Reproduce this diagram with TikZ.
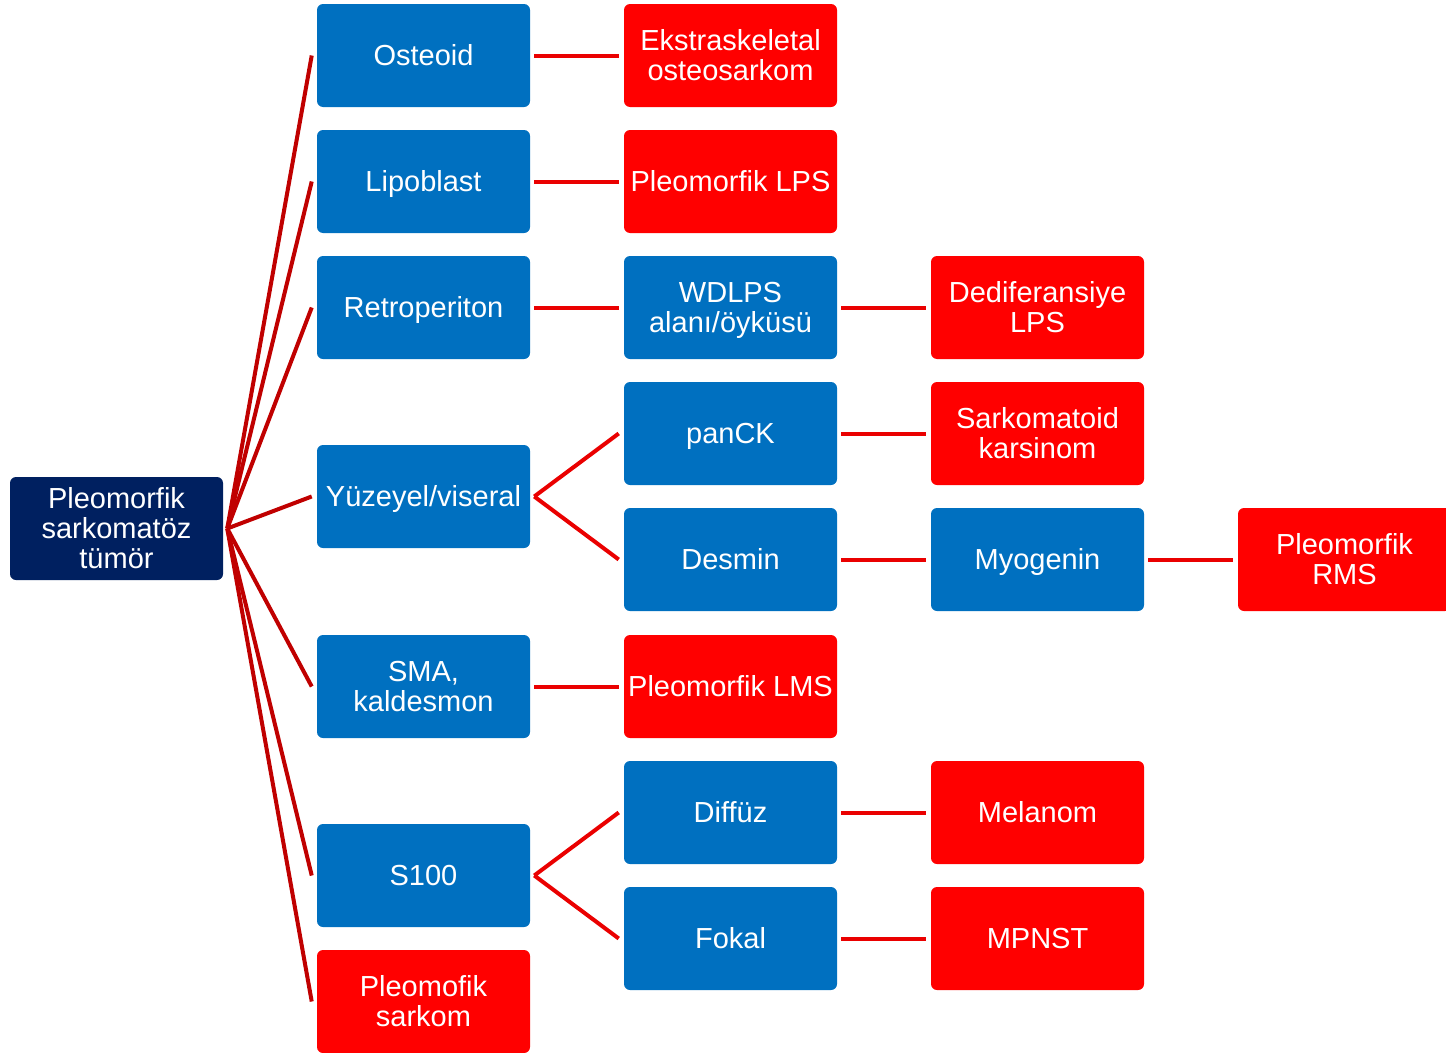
\documentclass[tikz,border=0pt]{standalone}
\usepackage{fontspec}
\setmainfont{Liberation Sans}
\usetikzlibrary{calc}
\definecolor{navy}{HTML}{002060}
\definecolor{bblue}{HTML}{0070C0}
\definecolor{bred}{HTML}{FF0000}
\definecolor{fanred}{HTML}{C00000}
\definecolor{linkred}{HTML}{EA0000}
\tikzset{
  box/.style={rectangle, rounded corners=4.5pt, minimum width=159.75pt, minimum height=77.25pt,
    inner sep=0pt, align=center, text=white,
    font=\fontsize{21.75pt}{22.5pt}\selectfont},
  one/.style={text height=15.6pt, text depth=0pt},
  two/.style={text height=38.1pt, text depth=0pt},
  three/.style={text height=60.6pt, text depth=0pt},
  bluebox/.style={box, fill=bblue},
  redbox/.style={box, fill=bred},
  rootbox/.style={box, fill=navy},
  fan/.style={draw=fanred, line width=3pt},
  link/.style={draw=linkred, line width=3pt},
}
\begin{document}
\begin{tikzpicture}[x=0.75pt, y=-0.75pt]
\useasboundingbox (0,0) rectangle (1446,1053);
% root
\node[rootbox, three] (root) at (116.5,528.5) {Pleomorfik\\sarkomatöz\\tümör};
% column 1
\node[bluebox, one] (osteoid) at (423.5,55.5) {Osteoid};
\node[bluebox, one] (lipo) at (423.5,181.5) {Lipoblast};
\node[bluebox, one] (retro) at (423.5,307.5) {Retroperiton};
\node[bluebox, one] (yuz) at (423.5,496.5) {Yüzeyel/viseral};
\node[bluebox, two] (sma) at (423.5,686.5) {SMA,\\kaldesmon};
\node[bluebox, one] (s100) at (423.5,875.5) {S100};
\node[redbox, two] (psark) at (423.5,1001.5) {Pleomofik\\sarkom};
% column 2
\node[redbox, two] (ekstra) at (730.5,55.5) {Ekstraskeletal\\osteosarkom};
\node[redbox, one] (plps) at (730.5,181.5) {Pleomorfik LPS};
\node[bluebox, two] (wdlps) at (730.5,307.5) {WDLPS\\alanı/öyküsü};
\node[bluebox, one] (panck) at (730.5,433.5) {panCK};
\node[bluebox, one] (desmin) at (730.5,559.5) {Desmin};
\node[redbox, one] (plms) at (730.5,686.5) {Pleomorfik LMS};
\node[bluebox, one] (diffuz) at (730.5,812.5) {Diffüz};
\node[bluebox, one] (fokal) at (730.5,938.5) {Fokal};
% column 3
\node[redbox, two] (dedif) at (1037.5,307.5) {Dediferansiye\\LPS};
\node[redbox, two] (sarkom) at (1037.5,433.5) {Sarkomatoid\\karsinom};
\node[bluebox, one] (myo) at (1037.5,559.5) {Myogenin};
\node[redbox, one] (melanom) at (1037.5,812.5) {Melanom};
\node[redbox, one] (mpnst) at (1037.5,938.5) {MPNST};
% column 4
\node[redbox, two] (prms) at (1344.5,559.5) {Pleomorfik\\RMS};
% fan connectors
\coordinate (rootout) at ($(root.east)+(4,0)$);
\foreach \t in {osteoid,lipo,retro,yuz,sma,s100,psark}
  \draw[fan] (rootout) -- ($(\t.west)+(-5,0)$);
% horizontal links
\foreach \a/\b in {osteoid/ekstra,lipo/plps,retro/wdlps,wdlps/dedif,panck/sarkom,desmin/myo,myo/prms,sma/plms,diffuz/melanom,fokal/mpnst}
  \draw[link] ($(\a.east)+(4,0)$) -- ($(\b.west)+(-5,0)$);
% split links
\foreach \a/\b in {yuz/panck,yuz/desmin,s100/diffuz,s100/fokal}
  \draw[link] ($(\a.east)+(4,0)$) -- ($(\b.west)+(-5,0)$);
\end{tikzpicture}
\end{document}
